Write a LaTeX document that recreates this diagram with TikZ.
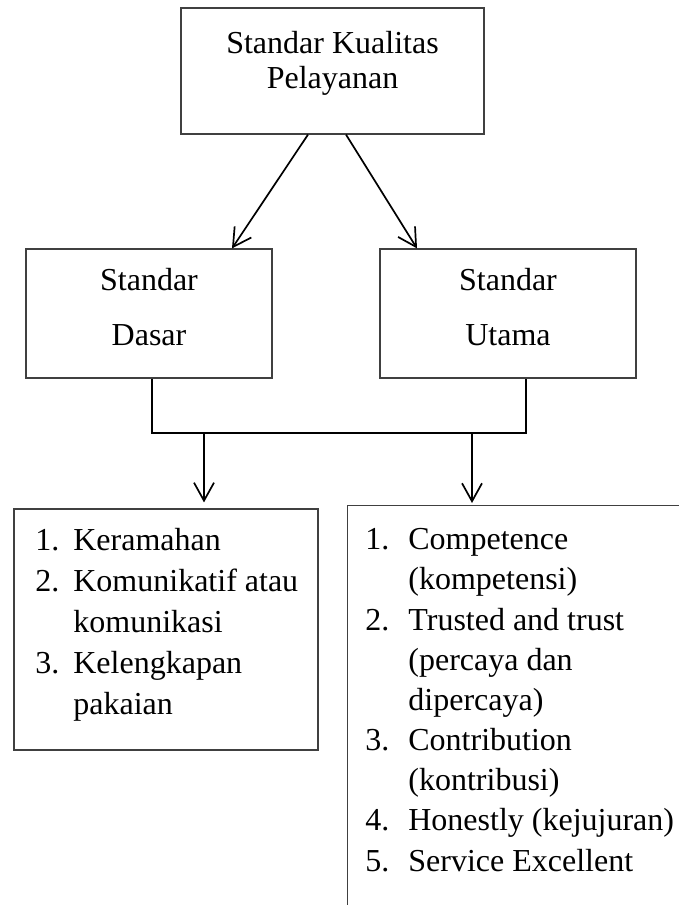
\documentclass[tikz,border=0pt]{standalone}
\usepackage{fontspec}
\setmainfont{Liberation Serif}
\usetikzlibrary{arrows.meta,positioning,calc}
\definecolor{bingkai}{HTML}{404040}

\newcommand{\nomor}[1]{\makebox[19pt][l]{#1}}
\newcommand{\nomorb}[1]{\makebox[21.5pt][l]{#1}}

\begin{document}
\begin{tikzpicture}[x=0.5pt, y=-0.5pt,
    kotak/.style={rectangle, draw=bingkai, line width=0.6pt, align=center, font=\fontsize{16}{27.5}\selectfont},
    daftar/.style={inner sep=0pt, align=left, anchor=north west},
    garis/.style={line width=1pt, black},
    panah/.style={-{Straight Barb[length=9pt,width=10pt,line width=0.85pt]}, line width=0.85pt, black}
]
    \useasboundingbox (0,0) rectangle (679,905);
    \clip (0,0) rectangle (679,905);

    % Puncak
    \node[kotak, minimum width=151.5pt, minimum height=63pt, font=\fontsize{16}{17.5}\selectfont, text depth=11.5pt] (kualitas) at (332.5,71) {Standar Kualitas\\Pelayanan};

    % Standar
    \node[kotak, minimum width=123pt, minimum height=64.5pt, text depth=7pt] (dasar) at (149,313.5) {Standar\\Dasar};
    \node[kotak, minimum width=128pt, minimum height=64.5pt, text depth=7pt] (utama) at (508,313.5) {Standar\\Utama};

    % Daftar
    \node[kotak, minimum width=152pt, minimum height=120.5pt] (dasarlist) at (166,629.5) {};
    \node[daftar, font=\fontsize{16}{20.5}\selectfont] (dasarisi) at (35,528) {\nomor{1.}Keramahan\\\nomor{2.}Komunikatif atau\\\nomor{}komunikasi\\\nomor{3.}Kelengkapan\\\nomor{}pakaian};

    \node[kotak, anchor=north west, minimum width=200pt, minimum height=250pt] (utamalist) at (347,505) {};
    \node[daftar, font=\fontsize{16}{20.1}\selectfont] (utamaisi) at (365,528) {\nomorb{1.}Competence\\\nomorb{}(kompetensi)\\\nomorb{2.}Trusted and trust\\\nomorb{}(percaya dan\\\nomorb{}dipercaya)\\\nomorb{3.}Contribution\\\nomorb{}(kontribusi)\\\nomorb{4.}Honestly (kejujuran)\\\nomorb{5.}Service Excellent};

    \draw[panah] ([xshift=-12.25pt]kualitas.south) -- ([xshift=41.5pt]dasar.north);
    \draw[panah] ([xshift=6.75pt]kualitas.south) -- ([xshift=-45.5pt]utama.north);

    \coordinate (gabung-kiri) at (152,433);
    \coordinate (gabung-kanan) at (526,433);
    \coordinate (turun-kiri) at (204,433);
    \coordinate (turun-kanan) at (472,433);
    \draw[garis] (dasar.south -| gabung-kiri) -- (gabung-kiri) -- (gabung-kanan) -- (utama.south -| gabung-kanan);
    \draw[panah, shorten >=3pt] (turun-kiri) -- (turun-kiri |- dasarlist.north);
    \draw[panah, shorten >=1pt] (turun-kanan) -- (turun-kanan |- utamalist.north);
\end{tikzpicture}
\end{document}
